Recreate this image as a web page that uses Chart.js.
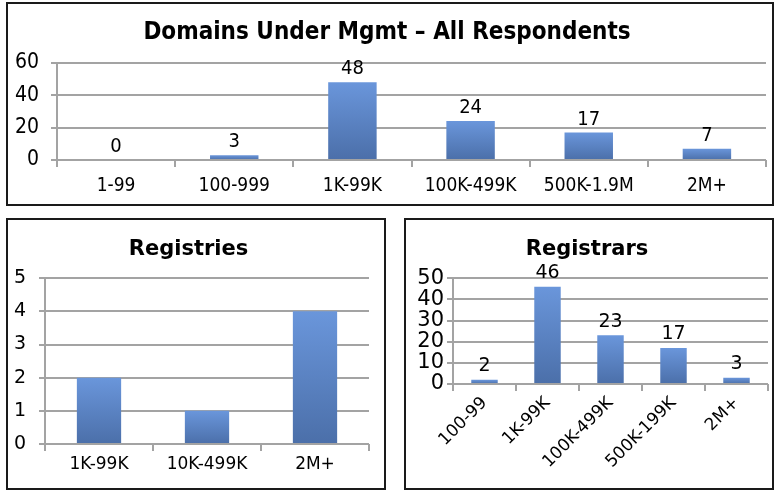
<!DOCTYPE html>
<html>
<head>
<meta charset="utf-8">
<script src="https://cdn.jsdelivr.net/npm/chart.js@4/dist/chart.umd.min.js"></script>
<style>
    body { margin: 0; background: #fff; width: 774px; height: 491px; position: relative; overflow: hidden; }
    .box { position: absolute; border: 2px solid #1a1a1a; box-sizing: border-box; }
    .box canvas { display: block; }
</style>
</head>
<body>
<div class="box" style="left:6px; top:2px; width:768px; height:204px;"><canvas id="allChart" width="764" height="200"></canvas></div>
<div class="box" style="left:6px; top:218px; width:380px; height:272px;"><canvas id="registryChart" width="376" height="268"></canvas></div>
<div class="box" style="left:404px; top:218px; width:370px; height:272px;"><canvas id="registrarChart" width="366" height="268"></canvas></div>

<script>
// All respondents
const allLabels = ["1-99", "100-999", "1K-99K", "100K-499K", "500K-1.9M", "2M+"];
const allValues = [0, 3, 48, 24, 17, 7];
const allTicks = [0, 20, 40, 60];

// Registries
const registryLabels = ["1K-99K", "10K-499K", "2M+"];
const registryValues = [2, 1, 4];
const registryTicks = [0, 1, 2, 3, 4, 5];

// Registrars
const registrarLabels = ["100-99", "1K-99K", "100K-499K", "500K-199K", "2M+"];
const registrarValues = [2, 46, 23, 17, 3];
const registrarTicks = [0, 10, 20, 30, 40, 50];

const GRID = "#a3a3a3";

// Bar gradient, light on top, darker at the base
function barGradient(context) {
    const chart = context.chart;
    const { chartArea, scales } = chart;
    if (!chartArea) return "#5f86c6";
    const top = scales.y.getPixelForValue(context.raw);
    const bottom = scales.y.getPixelForValue(0);
    const g = chart.ctx.createLinearGradient(0, top, 0, Math.max(bottom, top + 1));
    g.addColorStop(0, "#6a96db");
    g.addColorStop(1, "#4b6fa9");
    return g;
}

// Value labels above the bars
const valueLabels = {
    id: "valueLabels",
    afterDatasetsDraw(chart, args, opts) {
        if (!opts.show) return;
        const ctx = chart.ctx;
        const meta = chart.getDatasetMeta(0);
        const data = chart.data.datasets[0].data;
        ctx.save();
        ctx.fillStyle = "#000";
        ctx.font = opts.font;
        ctx.textAlign = "center";
        ctx.textBaseline = "bottom";
        meta.data.forEach((bar, i) => {
            ctx.fillText(String(data[i]), bar.x, bar.y - opts.gap);
        });
        ctx.restore();
    }
};

function makeChart(id, cfg) {
    const el = document.getElementById(id);
    return new Chart(el.getContext("2d"), {
        type: "bar",
        data: {
            labels: cfg.labels,
            datasets: [{
                data: cfg.values,
                backgroundColor: barGradient,
                categoryPercentage: 1,
                barPercentage: cfg.barPct
            }]
        },
        options: {
            responsive: false,
            animation: false,
            layout: { padding: { left: 0, right: cfg.padRight, top: 0, bottom: 0 } },
            plugins: {
                legend: { display: false },
                tooltip: { enabled: false },
                title: {
                    display: true,
                    text: cfg.title,
                    color: "#000",
                    font: { family: cfg.titleFamily, size: cfg.titleSize, weight: "bold", lineHeight: 1.2 },
                    padding: cfg.titlePad
                },
                valueLabels: { show: cfg.showValues, font: cfg.valueFont, gap: cfg.valueGap }
            },
            scales: {
                x: {
                    grid: { display: true, drawOnChartArea: false, color: GRID, lineWidth: 2, tickLength: 7, offset: true },
                    border: { display: false },
                    ticks: {
                        color: "#000",
                        font: { family: cfg.tickFamily, size: cfg.xTickSize },
                        padding: cfg.xTickPad,
                        maxRotation: cfg.rotation,
                        minRotation: cfg.rotation,
                        autoSkip: false
                    },
                    afterFit: (axis) => { axis.height = cfg.xHeight; }
                },
                y: {
                    min: 0,
                    max: cfg.yTicks[cfg.yTicks.length - 1],
                    afterBuildTicks: (axis) => { axis.ticks = cfg.yTicks.map(v => ({ value: v })); },
                    grid: { color: GRID, lineWidth: 2, tickLength: 6 },
                    border: { display: true, color: GRID, width: 2 },
                    ticks: {
                        color: "#000",
                        font: { family: cfg.tickFamily, size: cfg.yTickSize },
                        padding: cfg.yTickPad,
                        autoSkip: false
                    },
                    afterFit: (axis) => { axis.width = cfg.yWidth; }
                }
            }
        },
        plugins: [valueLabels]
    });
}

makeChart("allChart", {
    labels: allLabels, values: allValues, yTicks: allTicks,
    title: "Domains Under Mgmt \u2013 All Respondents",
    titleFamily: "DejaVu Sans Condensed", titleSize: 24, titlePad: { top: 14, bottom: 16 },
    tickFamily: "DejaVu Sans Condensed", xTickSize: 19, yTickSize: 21, xTickPad: 8, yTickPad: 12,
    rotation: 0, xHeight: 44, yWidth: 49, padRight: 6, barPct: 0.41,
    showValues: true, valueFont: "20px 'DejaVu Sans Condensed'", valueGap: 3
});

makeChart("registryChart", {
    labels: registryLabels, values: registryValues, yTicks: registryTicks,
    title: "Registries",
    titleFamily: "DejaVu Sans", titleSize: 21, titlePad: { top: 17, bottom: 16 },
    tickFamily: "DejaVu Sans", xTickSize: 17, yTickSize: 19, xTickPad: 3, yTickPad: 13,
    rotation: 0, xHeight: 44, yWidth: 37, padRight: 15, barPct: 0.41,
    showValues: false, valueFont: "19px 'DejaVu Sans'", valueGap: 5
});

makeChart("registrarChart", {
    labels: registrarLabels, values: registrarValues, yTicks: registrarTicks,
    title: "Registrars",
    titleFamily: "DejaVu Sans", titleSize: 21, titlePad: { top: 17, bottom: 16 },
    tickFamily: "DejaVu Sans", xTickSize: 17, yTickSize: 21, xTickPad: 2, yTickPad: 3,
    rotation: 45, xHeight: 104, yWidth: 47, padRight: 4, barPct: 0.42,
    showValues: true, valueFont: "19px 'DejaVu Sans'", valueGap: 4
});
</script>
</body>
</html>
